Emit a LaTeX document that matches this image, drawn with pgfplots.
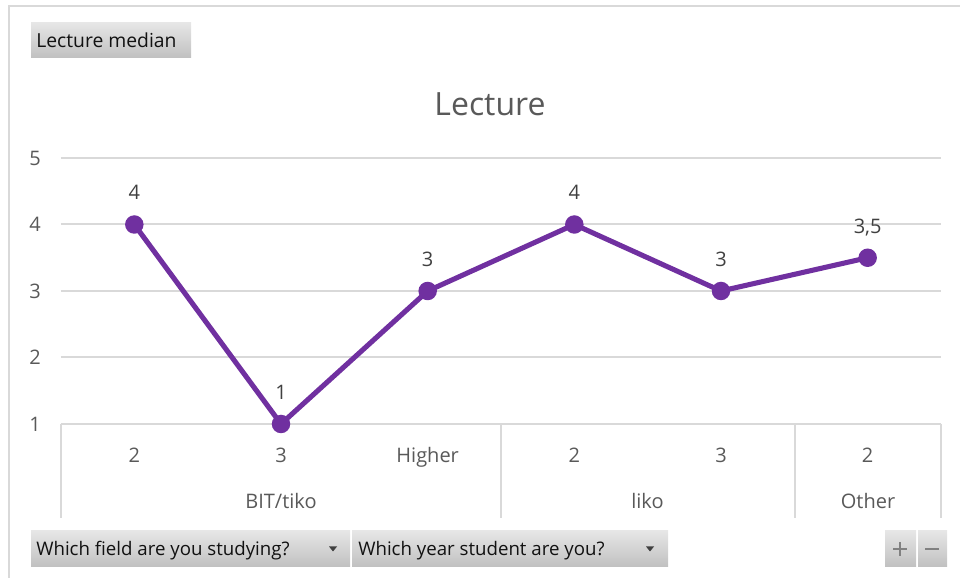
\documentclass[border=0pt]{standalone}
\usepackage{fontspec}
\setmainfont{Open Sans}
\usepackage{pgfplots}
\pgfplotsset{compat=1.18}

\definecolor{linepurple}{HTML}{7030A0}
\definecolor{gridgray}{HTML}{D9D9D9}
\definecolor{labelgray}{HTML}{595959}
\definecolor{datagray}{HTML}{404040}
\definecolor{btntop}{HTML}{E6E6E6}
\definecolor{btnbot}{HTML}{C0C0C0}
\definecolor{btntext}{HTML}{111111}

\begin{document}
\begin{tikzpicture}
% layout in px (960 x 578), 1px = 0.75pt, y measured from the bottom
\begin{scope}[x=0.75pt,y=0.75pt]
\useasboundingbox (0,0) rectangle (960,578);
\draw[gridgray, line width=1.5pt] (9,0) -- (9,572) -- (960,572);

% title
\node[anchor=base, text=labelgray, font=\fontsize{24}{28}\selectfont] at (490,462.5) {Lecture};

% field button
\shade[top color=btntop, bottom color=btnbot] (31,520) rectangle (191,555);
\node[anchor=base west, inner sep=0pt, text=btntext, font=\fontsize{14.5}{17}\selectfont] at (36,530.5) {Lecture median};

% category separators and group labels
\foreach \sx in {61,501,795,941}
  \draw[gridgray, line width=1.5pt] (\sx,154) -- (\sx,60);
\foreach \gx/\gname in {281/BIT\slash tiko, 647.5/liko, 868/Other}
  \node[anchor=base, text=labelgray, font=\fontsize{15}{18}\selectfont] at (\gx,69.5) {\gname};

% axis field buttons
\shade[top color=btntop, bottom color=btnbot] (31,11) rectangle (350,47);
\shade[top color=btntop, bottom color=btnbot] (352,11) rectangle (668,47);
\node[anchor=base west, inner sep=0pt, text=btntext, font=\fontsize{14}{17}\selectfont] at (36,22.5) {Which field are you studying?};
\node[anchor=base west, inner sep=0pt, text=btntext, font=\fontsize{14}{17}\selectfont] at (358,22.5) {Which year student are you?};
\fill[datagray] (329,31.5) -- (337,31.5) -- (333,26.5) -- cycle;
\fill[datagray] (646,31.5) -- (654,31.5) -- (650,26.5) -- cycle;

% zoom buttons
\shade[top color=btntop, bottom color=btnbot] (885,11) rectangle (916,47);
\shade[top color=btntop, bottom color=btnbot] (918,11) rectangle (947,47);
\draw[gray, line width=1.6pt] (893,29) -- (907,29) (900,22) -- (900,36);
\draw[gray, line width=1.6pt] (925,29) -- (939,29);
\end{scope}

\begin{axis}[
    at={(45.75pt,115.5pt)}, anchor=south west,
    scale only axis, width=660pt, height=199.5pt,
    xmin=-0.5, xmax=5.5, ymin=1, ymax=5,
    axis line style={draw=none},
    clip=false,
    xtick={0,1,2,3,4,5},
    xticklabels={2,3,Higher,2,3,2},
    ytick={1,2,3,4,5},
    ymajorgrids,
    grid style={gridgray, line width=1.5pt},
    major tick length=0pt,
    tick label style={text=labelgray, font=\fontsize{15}{18}\selectfont},
    xticklabel style={anchor=base, yshift=-29.25pt},
    yticklabel style={anchor=center, xshift=-19.5pt},
    /pgf/number format/.cd, use comma, assume math mode=true,
]
\addplot[
    color=linepurple, line width=3.8pt,
    mark=*, mark size=5pt,
    nodes near coords,
    every node near coord/.style={anchor=base, yshift=18.4pt, text=datagray,
        font=\fontsize{15}{18}\selectfont},
    ] coordinates {
    (0,4) (1,1) (2,3) (3,4) (4,3) (5,3.5)
    };
\end{axis}
\end{tikzpicture}
\end{document}
